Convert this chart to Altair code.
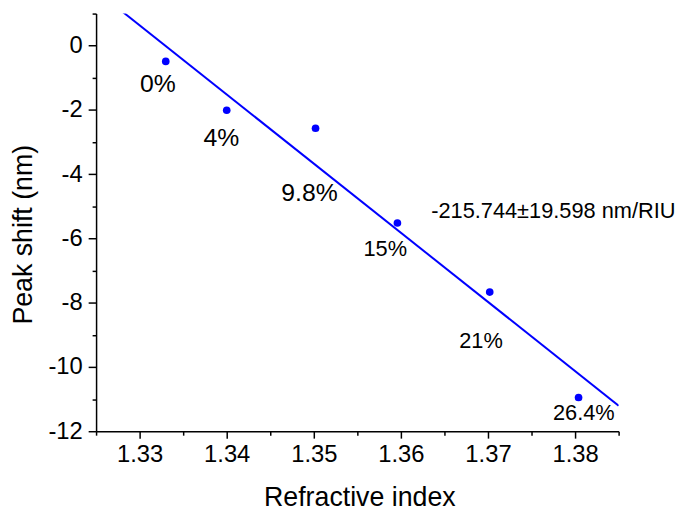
import altair as alt
import pandas as pd

# Data
ri = [1.333, 1.340, 1.3502, 1.3596, 1.3702, 1.3804]
shift = [-0.49, -2.01, -2.57, -5.52, -7.67, -10.95]
conc = ["0%", "4%", "9.8%", "15%", "21%", "26.4%"]
label_ri = [1.3321, 1.3394, 1.3495, 1.3582, 1.3692, 1.3810]
label_shift = [-1.18, -2.87, -4.60, -6.33, -9.20, -11.42]
slope_text = ["-215.744\u00b119.598 nm/RIU"]
slope_ri = [1.3775]
slope_shift = [-5.15]

x_ticks = [1.325, 1.33, 1.335, 1.34, 1.345, 1.35, 1.355, 1.36, 1.365, 1.37, 1.375, 1.38, 1.385]
y_ticks = [-12, -11, -10, -9, -8, -7, -6, -5, -4, -3, -2, -1, 0, 1]

FONT = "Liberation Sans"
BLUE = "#0000ff"

pts = pd.DataFrame({"ri": ri, "shift": shift})
labels = pd.DataFrame({"ri": label_ri, "shift": label_shift, "txt": conc})
big_labels = labels.iloc[:3]
small_labels = labels.iloc[3:]
slope_df = pd.DataFrame({"ri": slope_ri, "shift": slope_shift, "txt": slope_text})

x_major = "round(datum.value*1000) % 10 === 0"
y_major = "datum.value % 2 === 0"

x_axis = alt.Axis(
    values=x_ticks,
    labelExpr=f"{x_major} ? format(datum.value, '.2f') : ''",
    tickSize={"condition": {"test": x_major, "value": 7}, "value": 4},
    grid=False, domainColor="black", tickColor="black",
    domainWidth=1.5, tickWidth=1.5,
    labelFont=FONT, labelFontSize=24, labelColor="black",
    labelPadding=5, labelOverlap=False, labelFlush=False,
    title="Refractive index", titleFont=FONT, titleFontSize=27,
    titleFontWeight="normal", titleColor="black",
    titleX=266, titleY=75, titleBaseline="alphabetic", titleAlign="center",
)
y_axis = alt.Axis(
    values=y_ticks,
    labelExpr=f"{y_major} ? '' + datum.value : ''",
    tickSize={"condition": {"test": y_major, "value": 8}, "value": 4},
    grid=False, domainColor="black", tickColor="black",
    domainWidth=1.5, tickWidth=1.5,
    labelFont=FONT, labelFontSize=24, labelColor="black",
    labelPadding=6, labelOverlap=False, labelFlush=False,
    title="Peak shift (nm)", titleFont=FONT, titleFontSize=27,
    titleFontWeight="normal", titleColor="black",
    titleX=-65, titleY=223, titleBaseline="alphabetic", titleAlign="center",
    titleAngle=-90,
)

xs = alt.Scale(domain=[1.325, 1.385], nice=False, zero=False)
ys = alt.Scale(domain=[-12, 1], nice=False, zero=False)
X = alt.X("ri:Q", scale=xs, axis=x_axis)
Y = alt.Y("shift:Q", scale=ys, axis=y_axis)

fit = (
    alt.Chart(pts)
    .transform_regression("ri", "shift", extent=[1.325, 1.385])
    .mark_line(color=BLUE, strokeWidth=2, clip=True)
    .encode(x=X, y=Y)
)
dots = alt.Chart(pts).mark_circle(color=BLUE, size=60, opacity=1).encode(x=X, y=Y)
t_big = alt.Chart(big_labels).mark_text(
    font=FONT, fontSize=25, color="black", align="center", baseline="middle"
).encode(x=X, y=Y, text="txt:N")
t_small = alt.Chart(small_labels).mark_text(
    font=FONT, fontSize=22, color="black", align="center", baseline="middle"
).encode(x=X, y=Y, text="txt:N")
t_slope = alt.Chart(slope_df).mark_text(
    font=FONT, fontSize=22, color="black", align="center", baseline="middle"
).encode(x=X, y=Y, text="txt:N")

chart = (
    alt.layer(fit, dots, t_big, t_small, t_slope)
    .properties(
        width=528, height=422,
        autosize=alt.AutoSizeParams(type="none"),
        padding={"left": 89, "top": 3, "right": 60, "bottom": 80},
        background="white",
    )
    .configure_view(stroke=None)
)

chart.save("out.html", embed_options={"renderer": "svg", "actions": False})
